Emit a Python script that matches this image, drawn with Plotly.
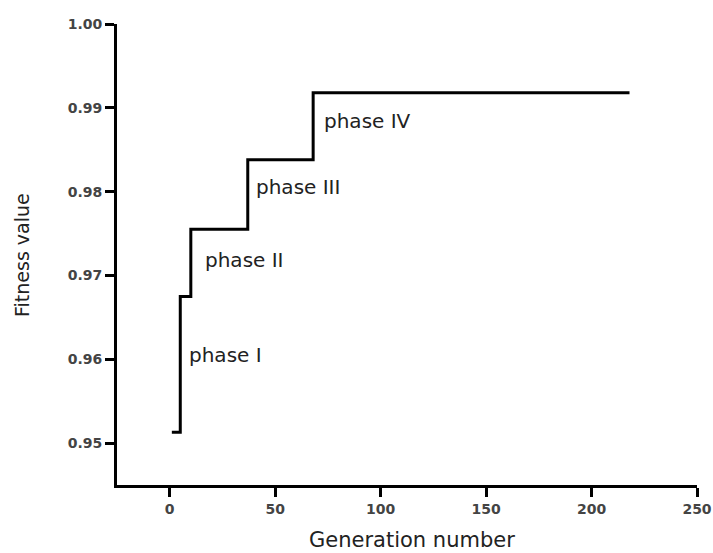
import plotly.graph_objects as go

generation = [1, 5, 10, 37, 68, 218]
fitness = [0.9513, 0.9675, 0.9755, 0.9838, 0.9918, 0.9918]

phase_labels = ["phase I", "phase II", "phase III", "phase IV"]
phase_x = [8.1, 15.7, 39.8, 72.1]
phase_y = [0.9605, 0.9718, 0.9805, 0.9884]

x_ticks = [0, 50, 100, 150, 200, 250]
y_ticks = [0.95, 0.96, 0.97, 0.98, 0.99, 1.00]
y_tick_text = ["0.95", "0.96", "0.97", "0.98", "0.99", "1.00"]

W, H = 713, 553
L, T = 117, 24
R = W - 697
B = H - 485
pw, ph = W - L - R, H - T - B
bottom = H - B

fig = go.Figure()
fig.add_trace(go.Scatter(
    x=generation, y=fitness, mode="lines",
    line=dict(shape="hv", color="black", width=3),
    showlegend=False, hoverinfo="skip"))

for t, x, y in zip(phase_labels, phase_x, phase_y):
    fig.add_annotation(x=x, y=y, text=t, showarrow=False, xanchor="left", yanchor="middle",
                       font=dict(family="DejaVu Sans", size=20, color="#222"))

fig.add_annotation(xref="paper", yref="paper", x=(412 - L) / pw, y=-(540 - bottom) / ph,
                   text="Generation number", showarrow=False, xanchor="center", yanchor="middle",
                   font=dict(family="DejaVu Sans", size=21, color="#222"))
fig.add_annotation(xref="paper", yref="paper", x=(22 - L) / pw, y=(bottom - 255) / ph,
                   text="Fitness value", showarrow=False, xanchor="center", yanchor="middle",
                   textangle=-90,
                   font=dict(family="DejaVu Sans", size=19, color="#222"))

fig.update_layout(
    width=W, height=H,
    margin=dict(l=L, r=R, t=T, b=B),
    plot_bgcolor="white", paper_bgcolor="white",
    font=dict(family="DejaVu Sans", color="#222"),
)
tickfont = dict(family="DejaVu Sans", size=14, color="#444", weight="bold")
fig.update_xaxes(
    range=[-25, 250], tickvals=x_ticks, showgrid=False, zeroline=False, automargin=False,
    showline=True, linecolor="black", linewidth=3,
    ticks="outside", ticklen=9, tickwidth=3, tickcolor="black",
    tickfont=tickfont, ticklabeloverflow="allow",
)
fig.update_yaxes(
    range=[0.945, 1.0], tickvals=y_ticks, ticktext=y_tick_text, showgrid=False, zeroline=False,
    automargin=False,
    showline=True, linecolor="black", linewidth=3,
    ticks="outside", ticklen=9, tickwidth=3, tickcolor="black",
    tickfont=tickfont,
)

fig.write_html("out.html", config={"displayModeBar": False},
               post_script="document.body.style.margin='0';document.body.style.overflow='hidden';")
